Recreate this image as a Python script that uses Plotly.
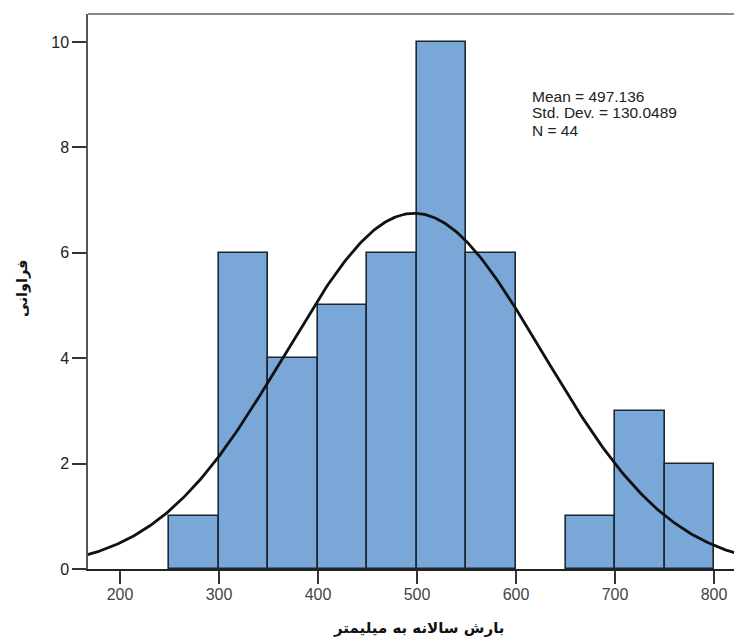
import numpy as np
import plotly.graph_objects as go

bin_starts = [250, 300, 350, 400, 450, 500, 550, 600, 650, 700, 750]
counts = [1, 6, 4, 5, 6, 10, 6, 0, 1, 3, 2]
bin_width = 50
mean_val = 497.136
std_val = 130.0489
n_val = 44
x_ticks = [200, 300, 400, 500, 600, 700, 800]
y_ticks = [0, 2, 4, 6, 8, 10]
stat_lines = [f"Mean = {mean_val}", f"Std. Dev. = {std_val}", f"N = {n_val}"]

centers = [s + bin_width / 2 for s in bin_starts]
border_widths = [1.6 if c > 0 else 0 for c in counts]

xs = np.linspace(160, 830, 400)
ys = n_val * bin_width / (std_val * np.sqrt(2 * np.pi)) * np.exp(-0.5 * ((xs - mean_val) / std_val) ** 2)

W, H = 734, 643
L, R, T, B = 88, 0, 14, 74
PW, PH = W - L - R, H - T - B

def px(xp):
    return (xp - L) / PW

def py(yp):
    return (H - B - yp) / PH

fig = go.Figure()
fig.add_trace(go.Bar(
    x=centers, y=counts, width=bin_width,
    marker=dict(color="#79a7d8", line=dict(color="#1c2733", width=border_widths)),
    hoverinfo="skip",
))
fig.add_trace(go.Scatter(
    x=xs, y=ys, mode="lines",
    line=dict(color="#111111", width=2.8),
    hoverinfo="skip",
))

font_family = "Liberation Sans, Arial, sans-serif"
fig.update_layout(
    width=W, height=H,
    margin=dict(l=L, r=R, t=T, b=B, autoexpand=False),
    paper_bgcolor="white", plot_bgcolor="white",
    showlegend=False,
    bargap=0,
    font=dict(family=font_family, size=16, color="#222222"),
    xaxis=dict(
        range=[167.7, 820.2], tickvals=x_ticks, ticks="outside", ticklen=13,
        ticklabelstandoff=-3,
        tickcolor="#333333", tickwidth=1.5, showline=True, linecolor="#222222", linewidth=1.5,
        showgrid=False, zeroline=False, automargin=False,
        tickfont=dict(size=16, color="#444444"),
    ),
    yaxis=dict(
        range=[0, 10.53], tickvals=y_ticks, ticks="outside", ticklen=14,
        tickcolor="#333333", tickwidth=1.5, showline=True, linecolor="#555555", linewidth=1.5,
        showgrid=False, zeroline=False, automargin=False,
        tickfont=dict(size=16, color="#222222"),
    ),
)

fig.add_shape(type="line", xref="paper", yref="paper", x0=0, x1=1, y0=1, y1=1,
              line=dict(color="#888888", width=2))

for i, line in enumerate(stat_lines):
    fig.add_annotation(
        xref="paper", yref="paper", x=px(530), y=py(96 + 17 * i),
        xanchor="left", yanchor="middle", align="left", showarrow=False,
        text=line, font=dict(family=font_family, size=15.5, color="#222222"),
    )

fig.add_annotation(
    xref="paper", yref="paper", x=px(22), y=py(288),
    xanchor="center", yanchor="middle", textangle=-90, showarrow=False,
    text="<b>فراوانی</b>", font=dict(family="DejaVu Sans, sans-serif", size=14.5, color="#111111"),
)
fig.add_annotation(
    xref="paper", yref="paper", x=px(418), y=py(628),
    xanchor="center", yanchor="middle", showarrow=False,
    text="<b>بارش سالانه به میلیمتر</b>", font=dict(family="DejaVu Sans, sans-serif", size=15, color="#111111"),
)

fig.write_html(
    "out.html",
    config={"displayModeBar": False},
    post_script="document.body.style.margin='0px';document.body.style.overflow='hidden';",
)
